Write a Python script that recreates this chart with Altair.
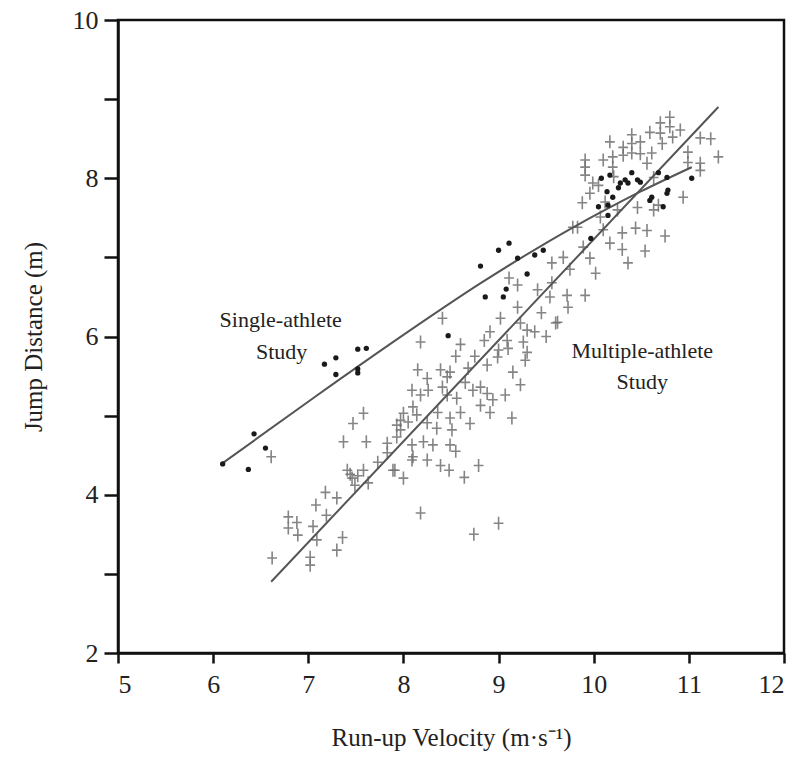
import altair as alt
import pandas as pd

# Multiple-athlete study (crosses)
multi_x = [6.61, 6.62, 6.79, 6.79, 6.88, 6.89, 7.02, 7.02, 7.05, 7.09, 7.08, 7.18, 7.19, 7.30, 7.30, 7.36,
           7.41, 7.46, 7.49, 7.44, 7.52, 7.58, 7.63, 7.37, 7.47, 7.58, 7.61, 7.73, 7.83, 7.83, 7.91, 8.00,
           7.93, 7.97, 8.00, 8.09, 8.09, 8.10, 8.18, 8.41, 8.18, 8.15, 8.25, 8.39, 8.49, 8.09, 8.18, 8.26,
           8.41, 8.46, 8.56, 7.97, 8.05, 8.14, 8.25, 8.35, 8.49, 8.51, 8.36, 7.93, 8.21, 8.31, 8.49, 8.10,
           8.25, 8.39, 8.79, 8.60, 8.65, 8.73, 8.81, 8.88, 8.94, 8.81, 8.91, 9.07, 9.14, 9.23, 8.88, 8.99,
           9.00, 9.10, 9.09, 9.28, 8.91, 9.02, 9.20, 9.23, 9.30, 9.38, 9.26, 9.60, 9.54, 9.41, 9.20, 8.68,
           8.46, 8.74, 9.00, 8.64, 8.48, 7.89, 9.11, 9.56, 9.68, 9.83, 9.89, 9.96, 10.02, 10.17, 10.05, 9.72,
           9.91, 9.73, 9.56, 10.30, 10.44, 10.56, 10.54, 10.36, 9.62,
           9.91, 9.91, 9.91, 10.17, 10.20, 10.20, 10.21, 10.31, 10.31, 10.40, 10.40, 10.40, 10.49, 10.49,
           10.59, 10.61, 10.70, 10.70, 10.72, 10.80, 10.80, 10.83, 10.91, 10.99, 10.99, 10.94, 10.63, 10.63,
           10.46, 10.25, 10.07, 9.99, 9.96, 10.12, 9.88, 9.78, 10.10, 10.56, 11.12, 11.23, 11.31, 11.12, 11.12,
           8.55, 8.60, 8.75, 9.15, 9.30, 9.45, 9.50, 10.75, 10.68, 10.30, 10.10, 9.75, 8.85, 8.70, 8.55]
multi_y = [4.48, 3.20, 3.72, 3.58, 3.65, 3.49, 3.21, 3.11, 3.60, 3.43, 3.87, 4.03, 3.74, 3.96, 3.30, 3.46,
           4.31, 4.21, 4.12, 4.26, 4.24, 4.31, 4.15, 4.67, 4.90, 5.03, 4.67, 4.41, 4.65, 4.53, 4.31, 4.21,
           4.88, 4.82, 5.03, 4.44, 4.63, 5.11, 3.77, 6.23, 5.93, 5.58, 5.47, 5.58, 5.55, 5.32, 5.26, 5.32,
           5.36, 5.26, 5.22, 4.94, 4.92, 5.01, 4.91, 4.84, 4.97, 4.82, 5.04, 4.73, 4.67, 4.63, 4.63, 4.48,
           4.44, 4.37, 4.37, 5.04, 5.42, 5.32, 5.36, 5.28, 5.20, 5.13, 5.04, 5.26, 4.97, 5.39, 5.64, 5.74,
           5.83, 5.85, 5.95, 5.70, 6.06, 6.23, 6.37, 6.17, 6.08, 6.06, 5.93, 6.17, 6.50, 6.59, 6.65, 5.60,
           5.49, 3.50, 3.64, 4.22, 4.31, 4.31, 6.74, 6.93, 7.00, 7.38, 7.13, 6.99, 6.80, 7.18, 7.91, 6.52,
           6.52, 6.37, 6.68, 7.31, 7.37, 7.34, 7.08, 6.93, 6.18,
           8.23, 8.14, 8.04, 8.46, 8.27, 8.14, 8.02, 8.39, 8.29, 8.55, 8.44, 8.32, 8.46, 8.31,
           8.58, 8.32, 8.70, 8.57, 8.44, 8.77, 8.65, 8.52, 8.61, 8.33, 8.20, 7.76, 8.01, 7.60,
           7.63, 7.60, 7.51, 7.94, 7.81, 7.70, 7.69, 7.38, 8.23, 8.19, 8.51, 8.50, 8.27, 8.19, 8.10,
           5.75, 5.90, 5.75, 5.55, 5.80, 6.30, 6.00, 7.27, 7.66, 7.10, 7.35, 6.85, 5.95, 4.90, 4.55]

# Single-athlete study (dots)
single_x = [6.10, 6.37, 6.43, 6.55, 7.17, 7.29, 7.29, 7.52, 7.61, 7.52, 7.52, 8.47,
            8.81, 9.00, 9.11, 9.20, 9.38, 9.47, 9.30, 9.08, 9.05, 8.86, 9.97,
            10.08, 10.17, 10.14, 10.20, 10.05, 10.15, 10.15, 10.26, 10.28, 10.33, 10.36, 10.40,
            10.46, 10.49, 10.59, 10.61, 10.68, 10.77, 10.78, 10.77, 10.73, 11.03]
single_y = [4.39, 4.32, 4.77, 4.59, 5.65, 5.73, 5.52, 5.84, 5.85, 5.59, 5.54, 6.01,
            6.89, 7.09, 7.18, 6.99, 7.03, 7.09, 6.79, 6.60, 6.50, 6.50, 7.24,
            8.00, 8.04, 7.83, 7.76, 7.64, 7.66, 7.53, 7.88, 7.94, 7.98, 7.94, 8.07,
            7.98, 7.95, 7.72, 7.76, 8.07, 8.01, 7.85, 7.81, 7.64, 8.00]

# Fitted lines
fit_single_x = [6.10, 7.05, 8.00, 8.82, 9.44, 9.86, 10.20, 10.49, 11.03]
fit_single_y = [4.40, 5.22, 6.02, 6.68, 7.14, 7.43, 7.65, 7.83, 8.14]
fit_multi_x = [6.61, 11.31]
fit_multi_y = [2.90, 8.90]

label_text = ["Single-athlete", "Study", "Multiple-athlete", "Study"]
label_x = [6.71, 6.72, 10.51, 10.51]
label_y = [6.21, 5.80, 5.82, 5.43]

FONT = "Liberation Serif"

multi_df = pd.DataFrame({"x": multi_x, "y": multi_y})
single_df = pd.DataFrame({"x": single_x, "y": single_y})
fs_df = pd.DataFrame({"x": fit_single_x, "y": fit_single_y})
fm_df = pd.DataFrame({"x": fit_multi_x, "y": fit_multi_y})
lab_df = pd.DataFrame({"x": label_x, "y": label_y, "t": label_text})

xenc = alt.X("x:Q", scale=alt.Scale(domain=[5, 12], nice=False, zero=False),
             axis=alt.Axis(values=[5, 6, 7, 8, 9, 10, 11, 12], title="Run-up Velocity (m·s⁻¹)",
                           tickSize=10, labelPadding=8, titlePadding=28))
yenc = alt.Y("y:Q", scale=alt.Scale(domain=[2, 10], nice=False, zero=False),
             axis=alt.Axis(values=[2, 3, 4, 5, 6, 7, 8, 9, 10], title="Jump Distance (m)",
                           labelExpr="datum.value % 2 == 0 ? datum.label : ''",
                           tickSize=14, labelPadding=6, titlePadding=26))

crosses = alt.Chart(multi_df).mark_point(
    shape="M-0.75,0L0.75,0M0,-1L0,1", filled=False, stroke="#707070",
    strokeWidth=1.6, size=170, opacity=0.85
).encode(x=xenc, y=yenc)

line_m = alt.Chart(fm_df).mark_line(color="#555555", strokeWidth=2).encode(x=xenc, y=yenc)
line_s = alt.Chart(fs_df).mark_line(color="#555555", strokeWidth=2, interpolate="monotone").encode(x=xenc, y=yenc)

dots = alt.Chart(single_df).mark_circle(color="#1a1a1a", size=28, opacity=1).encode(x=xenc, y=yenc)

labels = alt.Chart(lab_df).mark_text(font=FONT, fontSize=22, color="#222222", baseline="middle",
                                     align="center").encode(x=xenc, y=yenc, text="t:N")

chart = alt.layer(crosses, line_m, line_s, dots, labels).properties(
    width=666, height=633,
    autosize=alt.AutoSizeParams(type="none"),
    padding={"left": 118, "top": 20, "right": 16, "bottom": 121},
    background="white"
).configure_view(stroke="#111111", strokeWidth=2.5).configure_axis(
    grid=False, domainColor="#111111", domainWidth=2.5, tickColor="#111111", tickWidth=2.5,
    labelFont=FONT, labelFontSize=26, labelColor="#222222", titleFont=FONT, titleFontSize=25,
    titleFontWeight="normal", titleColor="#222222"
)

chart.save("out.html", embed_options={"renderer": "svg", "actions": False})
